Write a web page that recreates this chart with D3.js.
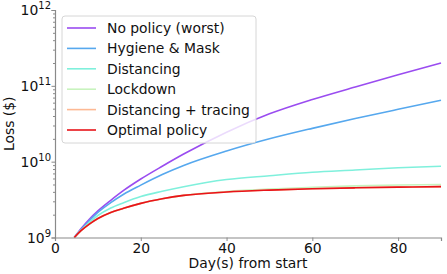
<!DOCTYPE html>
<html>
<head>
<meta charset="utf-8">
<script src="https://cdn.jsdelivr.net/npm/d3@7"></script>
<style>
  body { margin: 0; background: #fff; }
  svg { display: block; font-family: "DejaVu Sans", sans-serif; }
</style>
</head>
<body>
<div id="chart"></div>
<script>
const days = [4.5, 6, 8, 10, 13, 16, 20, 25, 30, 40, 50, 60, 70, 80, 90];

// loss in $ for each policy
const noPolicy = [1.0e9, 1.29e9, 1.74e9, 2.24e9, 3.09e9, 4.17e9, 5.9e9, 8.7e9, 1.26e10, 2.45e10, 4.27e10, 6.6e10, 9.66e10, 1.4e11, 2.0e11];
const hygiene = [1.0e9, 1.26e9, 1.66e9, 2.14e9, 2.88e9, 3.72e9, 4.9e9, 6.76e9, 8.9e9, 1.38e10, 2.0e10, 2.75e10, 3.7e10, 4.9e10, 6.45e10];
const distancing = [1.0e9, 1.23e9, 1.58e9, 1.95e9, 2.45e9, 2.88e9, 3.47e9, 4.07e9, 4.68e9, 5.82e9, 6.53e9, 7.25e9, 7.75e9, 8.3e9, 8.7e9];
const lockdown = [1.0e9, 1.22e9, 1.5e9, 1.78e9, 2.14e9, 2.43e9, 2.82e9, 3.24e9, 3.59e9, 4.05e9, 4.36e9, 4.59e9, 4.79e9, 4.92e9, 5.0e9];
const tracing = [1.0e9, 1.22e9, 1.5e9, 1.78e9, 2.14e9, 2.43e9, 2.82e9, 3.24e9, 3.59e9, 3.98e9, 4.22e9, 4.4e9, 4.52e9, 4.61e9, 4.68e9];
const optimal = [1.0e9, 1.22e9, 1.5e9, 1.78e9, 2.14e9, 2.43e9, 2.82e9, 3.24e9, 3.59e9, 3.98e9, 4.22e9, 4.4e9, 4.52e9, 4.61e9, 4.68e9];

const seriesNames = ["No policy (worst)", "Hygiene & Mask", "Distancing", "Lockdown", "Distancing + tracing", "Optimal policy"];
const seriesValues = [noPolicy, hygiene, distancing, lockdown, tracing, optimal];
const seriesColors = ["#9a4cf0", "#56a8ee", "#7ff0dc", "#c8f3be", "#fdb994", "#e8141a"];

const xTicks = [0, 20, 40, 60, 80];
const yTicks = [1e9, 1e10, 1e11, 1e12];

const W = 447, H = 274;
const margin = { top: 10, right: 6, bottom: 36.5, left: 55 };
const fs = 13.9;

const svg = d3.select("#chart").append("svg")
  .attr("width", W)
  .attr("height", H);

const x = d3.scaleLinear().domain([0, 90]).range([margin.left, W - margin.right]);
const y = d3.scaleLog().domain([1e9, 1e12]).range([H - margin.bottom, margin.top]);

const axisColor = "#8a8a8a";

// curves
const line = d3.line()
  .x((d) => x(d[0]))
  .y((d) => y(d[1]))
  .curve(d3.curveMonotoneX);

seriesValues.forEach((vals, i) => {
  svg.append("path")
    .datum(days.map((d, j) => [d, vals[j]]))
    .attr("fill", "none")
    .attr("stroke", seriesColors[i])
    .attr("stroke-width", 1.6)
    .attr("d", line);
});

// y axis: major + minor ticks
const minor = [];
[1e9, 1e10, 1e11].forEach((p) => {
  for (let k = 2; k <= 9; k++) minor.push(p * k);
});

const yAxis = svg.append("g")
  .attr("transform", `translate(${margin.left},0)`)
  .call(d3.axisLeft(y).tickValues(yTicks).tickSize(3.5).tickFormat(""));
svg.append("g")
  .attr("transform", `translate(${margin.left},0)`)
  .call(d3.axisLeft(y).tickValues(minor).tickSize(2).tickFormat(""))
  .call((g) => g.select(".domain").remove());

yTicks.forEach((t) => {
  const exp = Math.round(Math.log10(t));
  const txt = svg.append("text")
    .attr("x", margin.left - 4)
    .attr("y", y(t) + 5.4)
    .attr("text-anchor", "end")
    .attr("font-size", fs)
    .attr("fill", "#111");
  txt.append("tspan").text("10");
  txt.append("tspan").attr("dy", -6).attr("font-size", 10).text(exp);
});

// x axis
const xAxis = svg.append("g")
  .attr("transform", `translate(0,${H - margin.bottom})`)
  .call(d3.axisBottom(x).tickValues(xTicks).tickSize(3.5).tickPadding(2));
xAxis.selectAll("text").attr("font-size", fs).attr("fill", "#111").style("font-family", "DejaVu Sans");

[yAxis, xAxis].forEach((g) => {
  g.selectAll(".domain").attr("stroke", axisColor).attr("stroke-width", 1.2);
});
svg.selectAll(".tick line").attr("stroke", axisColor);

// axis labels
svg.append("text")
  .attr("x", x(45))
  .attr("y", 267.5)
  .attr("text-anchor", "middle")
  .attr("font-size", fs)
  .attr("fill", "#111")
  .text("Day(s) from start");

svg.append("text")
  .attr("transform", `translate(13.5,${(margin.top + H - margin.bottom) / 2}) rotate(-90)`)
  .attr("text-anchor", "middle")
  .attr("font-size", fs)
  .attr("fill", "#111")
  .text("Loss ($)");

// legend
const legend = svg.append("g");
legend.append("rect")
  .attr("x", 62)
  .attr("y", 16)
  .attr("width", 194)
  .attr("height", 127)
  .attr("rx", 3)
  .attr("fill", "#fff")
  .attr("fill-opacity", 0.8)
  .attr("stroke", "#d6d6d6");

seriesNames.forEach((name, i) => {
  const row = legend.append("g").attr("transform", `translate(0,${28 + i * 20.4})`);
  row.append("line")
    .attr("x1", 67).attr("x2", 96)
    .attr("stroke", seriesColors[i])
    .attr("stroke-width", 1.6);
  row.append("text")
    .attr("x", 107)
    .attr("y", 5)
    .attr("font-size", fs)
    .attr("fill", "#111")
    .text(name);
});
</script>
</body>
</html>
